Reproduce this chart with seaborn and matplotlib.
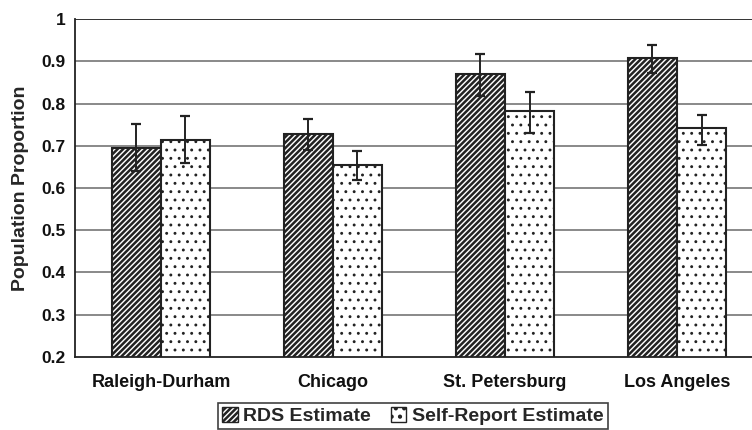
import matplotlib
matplotlib.use("Agg")
import matplotlib.pyplot as plt
from matplotlib.patches import Patch
import numpy as np
import pandas as pd
import seaborn as sns

cities = ["Raleigh-Durham", "Chicago", "St. Petersburg", "Los Angeles"]
series = ["RDS Estimate", "Self-Report Estimate"]
rds = [0.694, 0.728, 0.871, 0.907]
rds_low = [0.641, 0.690, 0.818, 0.873]
rds_high = [0.752, 0.763, 0.916, 0.939]
self_rep = [0.713, 0.654, 0.783, 0.741]
self_low = [0.658, 0.618, 0.731, 0.702]
self_high = [0.770, 0.688, 0.828, 0.773]

df = pd.DataFrame({
    "city": cities * 2,
    "estimate": [series[0]] * 4 + [series[1]] * 4,
    "value": rds + self_rep,
})

sns.set_style("white")
plt.rcParams["font.family"] = ["Liberation Sans", "DejaVu Sans"]
plt.rcParams["hatch.linewidth"] = 1.8

fig = plt.figure(figsize=(7.52, 4.3), dpi=100)
ax = fig.add_axes([0.0997, 0.1698, 0.9003, 0.786])

ax.set_axisbelow(True)
for v in np.arange(0.3, 1.01, 0.1):
    ax.axhline(v, color="#808080" if v < 0.95 else "#222222", lw=1.3, zorder=0)

sns.barplot(data=df, x="city", y="value", hue="estimate", hue_order=series,
            palette=["white", "white"], edgecolor="#222222", linewidth=1.5,
            width=0.57, gap=0, legend=False, ax=ax, errorbar=None)

hatches = ["//////", ".."]
hatch_lw = [1.8, 0.9]
bars = ax.patches
for i, p in enumerate(bars):
    p.set_hatch(hatches[i // 4])
    p.set_edgecolor("#222222")
    if hasattr(p, "set_hatch_linewidth"):
        p.set_hatch_linewidth(hatch_lw[i // 4])

# error bars
for i, (vals, lo, hi) in enumerate([(rds, rds_low, rds_high), (self_rep, self_low, self_high)]):
    xs = [p.get_x() + p.get_width() / 2 for p in bars[i * 4:(i + 1) * 4]]
    vals = np.array(vals)
    yerr = [vals - np.array(lo), np.array(hi) - vals]
    ax.errorbar(xs, vals, yerr=yerr, fmt="none", ecolor="#222222",
                elinewidth=1.4, capsize=3.5, capthick=1.6, zorder=5)

ax.set_ylim(0.2, 1.0)
ax.set_xlim(-0.5, 3.436)
ax.set_yticks(np.arange(0.2, 1.01, 0.1))
ax.set_yticklabels(["0.2", "0.3", "0.4", "0.5", "0.6", "0.7", "0.8", "0.9", "1"])
ax.set_xticks([-0.5, 0.5, 1.5, 2.5], minor=True)
ax.set_xticks(range(4))
ax.set_xticklabels(cities)
ax.tick_params(axis="x", which="major", length=0, pad=12)
ax.tick_params(axis="x", which="minor", length=5, width=1.2, color="#222222", direction="out")
ax.tick_params(axis="y", length=4, width=1.2, color="#222222", direction="out", pad=3)
for lab in ax.get_xticklabels():
    lab.set_fontweight("bold")
    lab.set_fontsize(13)
    lab.set_color("#111111")
for lab in ax.get_yticklabels():
    lab.set_fontweight("bold")
    lab.set_fontsize(12.5)
    lab.set_color("#111111")

ax.set_xlabel("")
ax.set_ylabel("Population Proportion", fontsize=14, fontweight="bold", labelpad=9)

for s in ["top", "right"]:
    ax.spines[s].set_visible(False)
for s in ["left", "bottom"]:
    ax.spines[s].set_color("#222222")
    ax.spines[s].set_linewidth(1.3)

handles = []
for h, lw, lab in zip(hatches, hatch_lw, series):
    ph = Patch(facecolor="white", edgecolor="#222222", hatch=h, label=lab)
    if hasattr(ph, "set_hatch_linewidth"):
        ph.set_hatch_linewidth(lw)
    handles.append(ph)
leg = fig.legend(handles=handles, loc="upper center", bbox_to_anchor=(0.549, 0.0628), ncol=2,
                 frameon=True, fancybox=False, edgecolor="#111111", handlelength=0.8,
                 handleheight=0.8, handletextpad=0.3, columnspacing=1.0,
                 prop={"weight": "bold", "size": 14}, borderpad=0.2, borderaxespad=0)
leg.get_frame().set_linewidth(1.2)

fig.savefig("out.png", dpi=100)
